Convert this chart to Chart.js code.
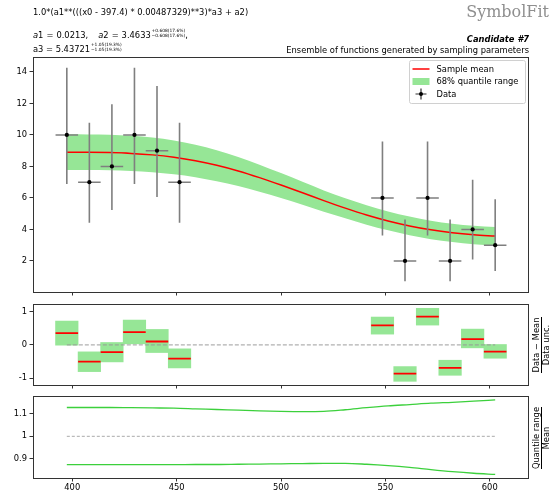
<!DOCTYPE html>
<html>
<head>
<meta charset="utf-8">
<script src="https://cdn.jsdelivr.net/npm/chart.js@4.4.1/dist/chart.umd.min.js"></script>
<style>
  html, body { margin: 0; padding: 0; background: #fff; }
  #page { position: relative; width: 553px; height: 493px; overflow: hidden;
          font-family: "DejaVu Sans", sans-serif; color: #000; }
  #page canvas { position: absolute; left: 0; top: 0; }
  .t { position: absolute; white-space: nowrap; font-size: 8.33px; line-height: 10px; }
  .rel { margin: 0 3px; }
  .gap { display: inline-block; width: 10px; }
  .ss { display: inline-block; vertical-align: middle; font-size: 4.4px; line-height: 4.8px;
        margin-left: 0.8px; position: relative; top: -1px; }
  .ss span { display: block; }
  .frac { position: absolute; width: 70px; height: 20px; font-size: 8.33px;
          transform: rotate(-90deg); transform-origin: 50% 50%; }
  .frac .num, .frac .den { position: absolute; left: 0; width: 70px; text-align: center;
          line-height: 9px; white-space: nowrap; }
  .frac .num { top: 1px; }
  .frac .den { top: 10.5px; }
  .frac .bar { position: absolute; top: 9.5px; height: 1px; background: #000; }
</style>
</head>
<body>
<div id="page">
  <canvas id="mainChart" width="553" height="493"></canvas>
  <canvas id="pullChart" width="553" height="493"></canvas>
  <canvas id="ratioChart" width="553" height="493"></canvas>

  <div class="t" style="left:33px; top:7px;">1.0*(a1**(((x0 - 397.4) * 0.00487329)**3)*a3 + a2)</div>
  <div class="t" style="left:33px; top:29.5px;"><i>a</i>1<span class="rel">=</span>0.0213,<span class="gap"></span><i>a</i>2<span class="rel">=</span>3.4633<span class="ss"><span>+0.608(17.6%)</span><span>−0.608(17.6%)</span></span>,</div>
  <div class="t" style="left:33px; top:43.5px;">a3 = 5.43721<span class="ss"><span>+1.05(19.3%)</span><span>−1.05(19.3%)</span></span></div>

  <div class="t" style="right:4px; top:3px; font-family:'DejaVu Serif',serif; font-size:16px; line-height:17px; color:#8f8f8f;">SymbolFit</div>
  <div class="t" style="right:24px; top:34px; font-weight:bold; font-style:italic;">Candidate #7</div>
  <div class="t" style="right:24px; top:45px;">Ensemble of functions generated by sampling parameters</div>

  <div class="frac" style="left:506px; top:334.5px;">
    <div class="num">Data − Mean</div><div class="bar" style="left:7px; width:56px;"></div><div class="den">Data unc.</div>
  </div>
  <div class="frac" style="left:506px; top:428px;">
    <div class="num">Quantile range</div><div class="bar" style="left:4px; width:62px;"></div><div class="den">Mean</div>
  </div>
</div>

<script>
// ---- data ----
const binCenters = [397.4, 408.2, 419.0, 429.8, 440.6, 451.4, 548.6, 559.4, 570.2, 581.0, 591.8, 602.6];
const binHalfWidth = [5.4, 5.4, 5.4, 5.4, 5.4, 5.4, 5.4, 5.4, 5.4, 5.4, 5.4, 5.4];
const counts   = [10, 7, 8, 10, 9, 7, 6, 2, 6, 2, 4, 3];
const countLow  = [6.89, 4.42, 5.23, 6.89, 6.06, 4.42, 3.62, 0.71, 3.62, 0.71, 2.09, 1.37];
const countHigh = [14.27, 10.77, 11.95, 14.27, 13.11, 10.77, 9.58, 4.64, 9.58, 4.64, 7.16, 5.92];

const curveX = [397.4, 407.7, 417.9, 428.2, 438.4, 448.7, 459.0, 469.2, 479.5, 489.7, 500.0,
                510.3, 520.5, 530.8, 541.0, 551.3, 561.6, 571.8, 582.1, 592.3, 602.6];
const sampleMean = [8.900, 8.898, 8.880, 8.830, 8.736, 8.583, 8.364, 8.073, 7.713, 7.292, 6.824,
                    6.329, 5.831, 5.353, 4.916, 4.535, 4.221, 3.975, 3.792, 3.664, 3.579];
const ratioUpper = [1.128, 1.128, 1.128, 1.127, 1.126, 1.125, 1.122, 1.119, 1.116, 1.113, 1.111,
                    1.110, 1.111, 1.118, 1.127, 1.135, 1.141, 1.147, 1.151, 1.156, 1.162];
const ratioLower = [0.874, 0.874, 0.874, 0.874, 0.874, 0.874, 0.875, 0.875, 0.876, 0.877, 0.878,
                    0.879, 0.880, 0.880, 0.876, 0.870, 0.862, 0.852, 0.843, 0.836, 0.831];

const pull     = [0.35, -0.50, -0.22, 0.38, 0.10, -0.41, 0.58, -0.86, 0.84, -0.69, 0.17, -0.20];
const pullLow  = [-0.01, -0.80, -0.51, 0.03, -0.23, -0.69, 0.32, -1.09, 0.59, -0.91, -0.09, -0.40];
const pullHigh = [0.71, -0.21, 0.07, 0.74, 0.46, -0.12, 0.83, -0.65, 1.09, -0.46, 0.47, 0.01];

const xTickValues = [400, 450, 500, 550, 600];
const mainTickValues = [2, 4, 6, 8, 10, 12, 14];
const pullTickValues = [-1, 0, 1];
const ratioTickValues = [0.9, 1, 1.1];
const legendLabels = ['Sample mean', '68% quantile range', 'Data'];

// ---- style ----
const W = 553, H = 493;
const X_MIN = 381.2, X_MAX = 618.8;
const BAND = '#96e696';
const RED = '#ff0000';
const ERR = '#7f7f7f';
const LINE_GREEN = 'rgba(50,205,50,0.95)';
const FONT = '"DejaVu Sans", sans-serif';

Chart.defaults.font.family = FONT;
Chart.defaults.font.size = 8.33;
Chart.defaults.color = '#000';

// ---- helpers building point tables from the arrays ----
const pts = (xs, ys) => xs.map((x, i) => ({ x, y: ys[i] }));
function segments(list) {           // list of [x1,y1,x2,y2] -> broken polyline
  const out = [];
  list.forEach(([x1, y1, x2, y2]) => { out.push({ x: x1, y: y1 }, { x: x2, y: y2 }, { x: x2, y: null }); });
  return out;
}

const framePlugin = {
  id: 'frame',
  afterDraw(chart) {
    const a = chart.chartArea, ctx = chart.ctx;
    ctx.save();
    ctx.strokeStyle = '#333';
    ctx.lineWidth = 1;
    ctx.strokeRect(a.left + 0.5, a.top + 0.5, a.right - a.left - 1, a.bottom - a.top);
    ctx.restore();
  }
};

const legendPlugin = {
  id: 'legendBox',
  afterDraw(chart) {
    const a = chart.chartArea, ctx = chart.ctx;
    const w = 116, h = 43;
    const x = a.right - 4 - w, y = a.top + 3;
    ctx.save();
    ctx.beginPath();
    ctx.roundRect(x + 0.5, y + 0.5, w, h, 2);
    ctx.fillStyle = 'rgba(255,255,255,0.85)';
    ctx.fill();
    ctx.strokeStyle = '#d0d0d0';
    ctx.lineWidth = 1;
    ctx.stroke();
    const rows = [y + 9, y + 21.5, y + 34];
    const hx0 = x + 3.5, hx1 = x + 20.5, hc = (hx0 + hx1) / 2;
    // mean line handle
    ctx.strokeStyle = RED; ctx.lineWidth = 1.5;
    ctx.beginPath(); ctx.moveTo(hx0, rows[0]); ctx.lineTo(hx1, rows[0]); ctx.stroke();
    // band handle
    ctx.fillStyle = BAND;
    ctx.fillRect(hx0, rows[1] - 3.5, hx1 - hx0, 7);
    // data handle
    ctx.strokeStyle = '#333'; ctx.lineWidth = 1.2;
    ctx.beginPath();
    ctx.moveTo(hc, rows[2] - 5.5); ctx.lineTo(hc, rows[2] + 5.5);
    ctx.moveTo(hc - 5.5, rows[2]); ctx.lineTo(hc + 5.5, rows[2]);
    ctx.stroke();
    ctx.fillStyle = '#000';
    ctx.beginPath(); ctx.arc(hc, rows[2], 2, 0, Math.PI * 2); ctx.fill();
    // labels
    ctx.font = '8.33px ' + FONT;
    ctx.textBaseline = 'middle';
    ctx.fillStyle = '#000';
    legendLabels.forEach((t, i) => ctx.fillText(t, x + 27.5, rows[i] + 0.5));
    ctx.restore();
  }
};

function makeChart(id, area, yMin, yMax, yTicks, showXLabels, datasets, extra) {
  const xH = showXLabels ? 15 : 10;
  return new Chart(document.getElementById(id), {
    type: 'line',
    data: { datasets },
    options: {
      responsive: false,
      animation: false,
      devicePixelRatio: 1,
      events: [],
      layout: { padding: { left: 0, top: area.top, right: W - area.right, bottom: H - area.bottom - xH } },
      elements: { point: { radius: 0 }, line: { tension: 0 } },
      plugins: { legend: { display: false }, tooltip: { enabled: false } },
      scales: {
        x: {
          type: 'linear', min: X_MIN, max: X_MAX, offset: false,
          afterBuildTicks: s => { s.ticks = xTickValues.map(v => ({ value: v })); },
          afterFit: s => { s.height = xH; },
          grid: { display: true, drawOnChartArea: false, drawTicks: true, tickLength: 3.5,
                  tickColor: '#333', tickWidth: 1, offset: false },
          border: { display: false },
          ticks: { display: showXLabels, padding: 1, maxRotation: 0, autoSkip: false,
                   color: '#000', callback: v => String(v) }
        },
        y: {
          type: 'linear', min: yMin, max: yMax,
          afterBuildTicks: s => { s.ticks = yTicks.map(v => ({ value: v })); },
          afterFit: s => { s.width = area.left; },
          grid: { display: true, drawOnChartArea: false, drawTicks: true, tickLength: 3.5,
                  tickColor: '#333', tickWidth: 1 },
          border: { display: false },
          ticks: { padding: 2.5, color: '#000', autoSkip: false, callback: v => String(v) }
        }
      }
    },
    plugins: [framePlugin].concat(extra || [])
  });
}

// ---- main panel ----
const bandUpper = sampleMean.map((m, i) => m * ratioUpper[i]);
const bandLower = sampleMean.map((m, i) => m * ratioLower[i]);

makeChart('mainChart', { left: 33, top: 57, right: 529, bottom: 292 }, 0.03, 14.95, mainTickValues, false, [
  { label: 'Data', data: pts(binCenters, counts), showLine: false,
    pointRadius: 2.1, pointBackgroundColor: '#000', pointBorderWidth: 0 },
  { label: 'vertical errors', data: segments(binCenters.map((x, i) => [x, countLow[i], x, countHigh[i]])),
    borderColor: ERR, borderWidth: 1.6, spanGaps: false },
  { label: 'horizontal errors',
    data: segments(binCenters.map((x, i) => [x - binHalfWidth[i], counts[i], x + binHalfWidth[i], counts[i]])),
    borderColor: ERR, borderWidth: 1.6, spanGaps: false },
  { label: 'Sample mean', data: pts(curveX, sampleMean), borderColor: RED, borderWidth: 1.5,
    cubicInterpolationMode: 'monotone' },
  { label: 'band upper', data: pts(curveX, bandUpper), borderWidth: 0, borderColor: 'rgba(0,0,0,0)',
    backgroundColor: BAND, fill: '+1', cubicInterpolationMode: 'monotone' },
  { label: 'band lower', data: pts(curveX, bandLower), borderWidth: 0, borderColor: 'rgba(0,0,0,0)',
    cubicInterpolationMode: 'monotone' }
], [legendPlugin]);

// ---- pull panel ----
makeChart('pullChart', { left: 33, top: 304, right: 529, bottom: 385 }, -1.20, 1.22, pullTickValues, false, [
  { label: 'pull', data: segments(binCenters.map((x, i) => [x - binHalfWidth[i], pull[i], x + binHalfWidth[i], pull[i]])),
    borderColor: RED, borderWidth: 1.8, spanGaps: false },
  { label: 'zero', data: [{ x: binCenters[0], y: 0 }, { x: binCenters[binCenters.length - 1], y: 0 }],
    borderColor: 'rgba(150,150,150,0.75)', borderWidth: 1.2, borderDash: [4, 2] },
  { type: 'bar', label: 'pull range', data: binCenters.map((x, i) => ({ x, y: [pullLow[i], pullHigh[i]] })),
    backgroundColor: BAND, borderWidth: 0, barPercentage: 1, categoryPercentage: 1, grouped: false }
]);

// ---- ratio panel ----
makeChart('ratioChart', { left: 33, top: 396, right: 529, bottom: 478 }, 0.815, 1.179, ratioTickValues, true, [
  { label: 'upper / mean', data: pts(curveX, ratioUpper), borderColor: LINE_GREEN, borderWidth: 1.3,
    cubicInterpolationMode: 'monotone' },
  { label: 'lower / mean', data: pts(curveX, ratioLower), borderColor: LINE_GREEN, borderWidth: 1.3,
    cubicInterpolationMode: 'monotone' },
  { label: 'one', data: [{ x: binCenters[0], y: 1 }, { x: binCenters[binCenters.length - 1], y: 1 }],
    borderColor: 'rgba(150,150,150,0.8)', borderWidth: 1, borderDash: [3, 2] }
]);
</script>
</body>
</html>
